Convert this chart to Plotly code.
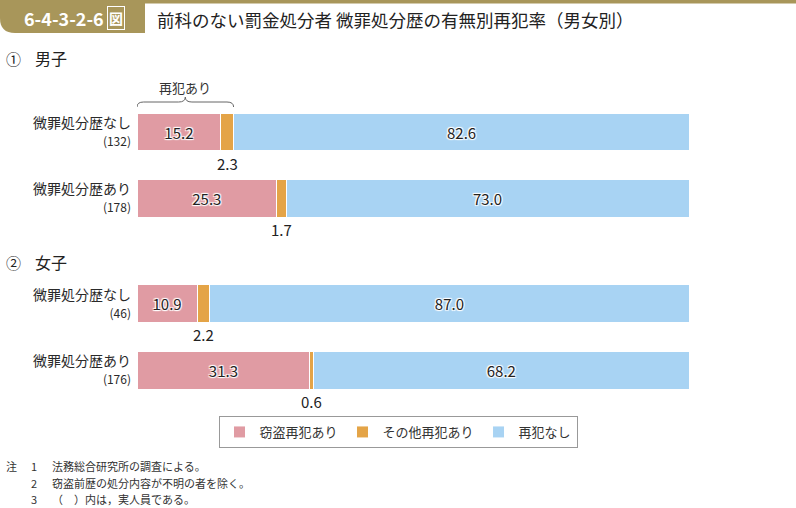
import plotly.graph_objects as go

W, H = 796, 508

# ---------------- data ----------------
row_labels = ["微罪処分歴なし", "微罪処分歴あり"]
male_counts = [132, 178]
female_counts = [46, 176]
male_theft = [15.2, 25.3]
male_other = [2.3, 1.7]
male_none = [82.6, 73.0]
female_theft = [10.9, 31.3]
female_other = [2.2, 0.6]
female_none = [87.0, 68.2]
series_names = ["窃盗再犯あり", "その他再犯あり", "再犯なし"]
section_titles = ["男子", "女子"]
notes = ["法務総合研究所の調査による。", "窃盗前歴の処分内容が不明の者を除く。", "（　）内は，実人員である。"]

colors = ["#e09ba3", "#e4a447", "#a8d3f3"]
FONT = "Noto Sans CJK JP"
halo = "1px 1px 1px #fff, -1px -1px 1px #fff, 1px -1px 1px #fff, -1px 1px 1px #fff"


def py(px):
    return 1 - px / H


def px_x(px):
    return px / W


fig = go.Figure()

groups = [
    ("y", "x", male_theft, male_other, male_none, True),
    ("y2", "x2", female_theft, female_other, female_none, False),
]

for yref, xref, theft, other, none, show in groups:
    cats = row_labels
    fig.add_trace(go.Bar(
        y=cats, x=theft, orientation="h", name=series_names[0],
        marker=dict(color=colors[0], line=dict(color="white", width=1)),
        text=[f"{v:.1f}" for v in theft], textposition="inside", insidetextanchor="middle",
        textfont=dict(size=15, color="#222", family=FONT, shadow=halo),
        showlegend=show, legendgroup="a", yaxis=yref, xaxis=xref,
        hoverinfo="skip", width=0.57,
    ))
    fig.add_trace(go.Bar(
        y=cats, x=other, orientation="h", name=series_names[1],
        marker=dict(color=colors[1], line=dict(color="white", width=1)),
        showlegend=show, legendgroup="b", yaxis=yref, xaxis=xref,
        hoverinfo="skip", width=0.57,
    ))
    fig.add_trace(go.Bar(
        y=cats, x=none, orientation="h", name=series_names[2],
        marker=dict(color=colors[2], line=dict(color="white", width=1)),
        text=[f"{v:.1f}" for v in none], textposition="inside", insidetextanchor="middle",
        textfont=dict(size=15, color="#222", family=FONT, shadow=halo),
        showlegend=show, legendgroup="c", yaxis=yref, xaxis=xref,
        hoverinfo="skip", width=0.57,
    ))
    for c, t, o in zip(cats, theft, other):
        fig.add_annotation(
            x=t + o / 2, y=c, xref=xref, yref=yref,
            text=f"{o:.1f}", showarrow=False, yshift=-31, yanchor="middle",
            font=dict(size=15, color="#222", family=FONT),
        )

ticktext_m = [f"{l}<br><span style='font-size:12px'>({n})</span>" for l, n in zip(row_labels, male_counts)]
ticktext_f = [f"{l}<br><span style='font-size:12px'>({n})</span>" for l, n in zip(row_labels, female_counts)]

xdom = [px_x(137), px_x(689)]
common_x = dict(range=[0, 100], showgrid=False, zeroline=False, showticklabels=False,
                showline=False, fixedrange=True, automargin=False)
common_y = dict(range=[1.5, -0.5], autorange=False, showgrid=False, zeroline=False, ticks="",
                tickfont=dict(size=14, color="#2a2a2a", family=FONT), ticklabelstandoff=5,
                showline=False, type="category", automargin=False, fixedrange=True)

fig.update_layout(
    width=W, height=H,
    margin=dict(l=0, r=0, t=0, b=0, pad=0, autoexpand=False),
    paper_bgcolor="white", plot_bgcolor="white",
    barmode="stack",
    bargap=0.43,
    font=dict(family=FONT, color="#333"),
    xaxis=dict(domain=xdom, anchor="y", **common_x),
    xaxis2=dict(domain=xdom, anchor="y2", **common_x),
    yaxis=dict(domain=[py(231.75), py(98.75)], anchor="x",
               tickvals=row_labels, ticktext=ticktext_m, **common_y),
    yaxis2=dict(domain=[py(403.5), py(270.5)], anchor="x2",
                tickvals=row_labels, ticktext=ticktext_f, **common_y),
    legend=dict(orientation="h", x=0.5, xanchor="center", y=py(416), yanchor="top",
                bordercolor="#999", borderwidth=1, font=dict(size=13, color="#333", family=FONT),
                itemwidth=30, traceorder="normal", bgcolor="white"),
    showlegend=True,
)

# ---------------- header ----------------
r = 15
fig.add_shape(type="path", xref="paper", yref="paper",
              path=(f"M 0,1 L {px_x(145)},1 L {px_x(145)},{py(33)} L {px_x(r)},{py(33)} "
                    f"Q 0,{py(33)} 0,{py(33 - r)} Z"),
              fillcolor="#a8965a", line=dict(width=0), layer="above")
fig.add_shape(type="rect", xref="paper", yref="paper",
              x0=px_x(145), x1=1, y0=py(3.5), y1=1,
              fillcolor="#a8965a", line=dict(width=0), layer="above")
fig.add_annotation(xref="paper", yref="paper", x=px_x(22), y=py(18), xanchor="left", yanchor="middle",
                   text="<b>6-4-3-2-6</b>", showarrow=False,
                   font=dict(size=18, color="white", family=FONT))
fig.add_annotation(xref="paper", yref="paper", x=px_x(116), y=py(18), xanchor="center", yanchor="middle",
                   text="<b>図</b>", showarrow=False, bordercolor="white", borderwidth=1, borderpad=1,
                   font=dict(size=14, color="white", family=FONT))
fig.add_annotation(xref="paper", yref="paper", x=px_x(155), y=py(19), xanchor="left", yanchor="middle",
                   text="前科のない罰金処分者 微罪処分歴の有無別再犯率（男女別）", showarrow=False,
                   font=dict(size=17.5, color="#222", family=FONT))

# section titles
for sym, title, ypx in [("①", section_titles[0], 58), ("②", section_titles[1], 262)]:
    fig.add_annotation(xref="paper", yref="paper", x=px_x(4), y=py(ypx), xanchor="left", yanchor="middle",
                       text=sym, showarrow=False, font=dict(size=15, color="#222", family=FONT))
    fig.add_annotation(xref="paper", yref="paper", x=px_x(33), y=py(ypx), xanchor="left", yanchor="middle",
                       text=title, showarrow=False, font=dict(size=16, color="#222", family=FONT))

# bracket "再犯あり" over first male bar
x1 = male_theft[0] + male_other[0]
xm = x1 / 2
rr = 1.2
yb, yl, yt = py(107), py(102), py(97)
fig.add_shape(type="path", xref="x", yref="paper",
              path=(f"M 0,{yb} Q 0,{yl} {rr},{yl} L {xm - rr},{yl} Q {xm},{yl} {xm},{yt} "
                    f"Q {xm},{yl} {xm + rr},{yl} L {x1 - rr},{yl} Q {x1},{yl} {x1},{yb}"),
              line=dict(color="#666", width=1))
fig.add_annotation(xref="x", yref="paper", x=xm, y=py(87), yanchor="middle", text="再犯あり",
                   showarrow=False, font=dict(size=13, color="#333", family=FONT))

# notes
for i, (txt, ypx) in enumerate(zip(notes, [466, 483, 499])):
    if i == 0:
        fig.add_annotation(xref="paper", yref="paper", x=px_x(4), y=py(ypx), xanchor="left",
                           yanchor="middle", text="注", showarrow=False,
                           font=dict(size=11, color="#333", family=FONT))
    fig.add_annotation(xref="paper", yref="paper", x=px_x(29), y=py(ypx), xanchor="left",
                       yanchor="middle", text=str(i + 1), showarrow=False,
                       font=dict(size=11, color="#333", family=FONT))
    fig.add_annotation(xref="paper", yref="paper", x=px_x(50), y=py(ypx), xanchor="left",
                       yanchor="middle", text=txt, showarrow=False,
                       font=dict(size=11, color="#333", family=FONT))

fig.write_html("out.html", config={"displayModeBar": False},
               post_script="document.body.style.margin='0';document.body.style.padding='0';")
